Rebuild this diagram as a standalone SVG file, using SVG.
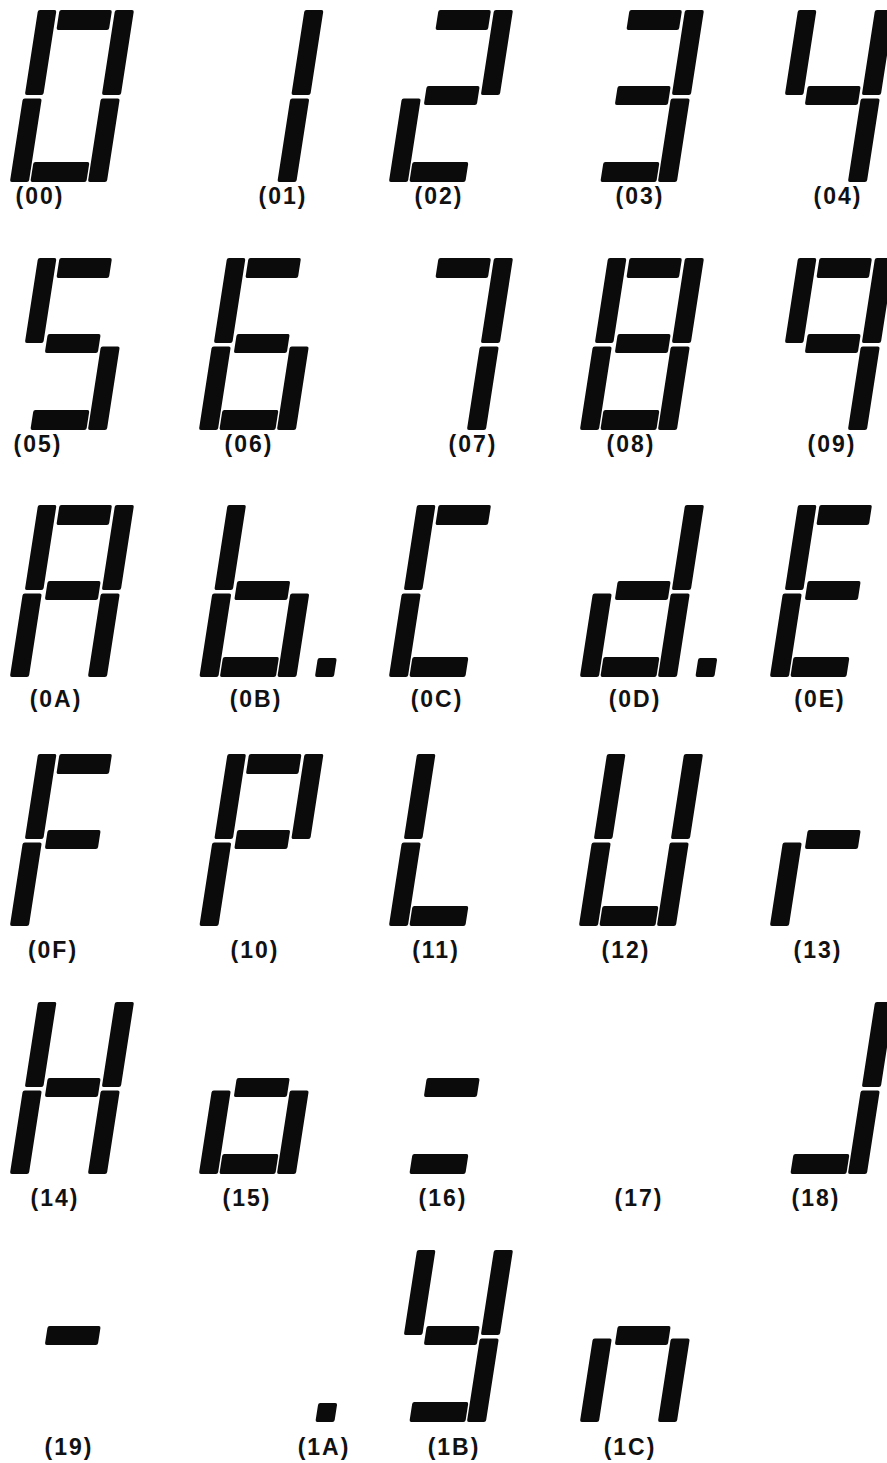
<svg xmlns="http://www.w3.org/2000/svg" width="887" height="1463" viewBox="0 0 887 1463">
<style>
.seg{fill:#0b0b0b}
.lbl{font-family:"Liberation Sans",Arial,sans-serif;font-weight:bold;font-size:23px;letter-spacing:2px;fill:#111;text-anchor:middle}
</style>
<defs>
<rect id="sa" class="seg" x="59.5" y="0" width="52.5" height="20" rx="2"/>
<rect id="sb" class="seg" x="115" y="0" width="19" height="85" rx="2"/>
<rect id="sc" class="seg" x="114.5" y="88.5" width="19" height="83.5" rx="2"/>
<rect id="sd" class="seg" x="57" y="152" width="56" height="20" rx="2"/>
<rect id="se" class="seg" x="36.5" y="88.5" width="19" height="83.5" rx="2"/>
<rect id="sf" class="seg" x="38" y="0" width="18.5" height="85" rx="2"/>
<rect id="sg" class="seg" x="59.5" y="76" width="53" height="19" rx="2"/>
<rect id="sp" class="seg" x="152" y="153" width="19" height="19" rx="2"/>
</defs>
<rect x="0" y="0" width="887" height="1463" fill="#fff"/>

<!-- Row 1 -->
<g id="n00"><g transform="translate(0,10) skewX(-8.8)"><use href="#sa"/><use href="#sb"/><use href="#sc"/><use href="#sd"/><use href="#se"/><use href="#sf"/></g><text class="lbl" x="40" y="204">(00)</text></g>
<g id="n01"><g transform="translate(189.5,10) skewX(-8.8)"><use href="#sb"/><use href="#sc"/></g><text class="lbl" x="283" y="204">(01)</text></g>
<g id="n02"><g transform="translate(379,10) skewX(-8.8)"><use href="#sa"/><use href="#sb"/><use href="#sg"/><use href="#se"/><use href="#sd"/></g><text class="lbl" x="439" y="204">(02)</text></g>
<g id="n03"><g transform="translate(570,10) skewX(-8.8)"><use href="#sa"/><use href="#sb"/><use href="#sg"/><use href="#sc"/><use href="#sd"/></g><text class="lbl" x="640" y="204">(03)</text></g>
<g id="n04"><g transform="translate(760,10) skewX(-8.8)"><use href="#sf"/><use href="#sg"/><use href="#sb"/><use href="#sc"/></g><text class="lbl" x="838" y="204">(04)</text></g>

<!-- Row 2 -->
<g id="n05"><g transform="translate(0,258) skewX(-8.8)"><use href="#sa"/><use href="#sf"/><use href="#sg"/><use href="#sc"/><use href="#sd"/></g><text class="lbl" x="38" y="452">(05)</text></g>
<g id="n06"><g transform="translate(189,258) skewX(-8.8)"><use href="#sa"/><use href="#sf"/><use href="#sg"/><use href="#se"/><use href="#sc"/><use href="#sd"/></g><text class="lbl" x="249" y="452">(06)</text></g>
<g id="n07"><g transform="translate(379,258) skewX(-8.8)"><use href="#sa"/><use href="#sb"/><use href="#sc"/></g><text class="lbl" x="473" y="452">(07)</text></g>
<g id="n08"><g transform="translate(570,258) skewX(-8.8)"><use href="#sa"/><use href="#sb"/><use href="#sc"/><use href="#sd"/><use href="#se"/><use href="#sf"/><use href="#sg"/></g><text class="lbl" x="631" y="452">(08)</text></g>
<g id="n09"><g transform="translate(760,258) skewX(-8.8)"><use href="#sa"/><use href="#sb"/><use href="#sc"/><use href="#sf"/><use href="#sg"/></g><text class="lbl" x="832" y="452">(09)</text></g>

<!-- Row 3 -->
<g id="n0A"><g transform="translate(0,505) skewX(-8.8)"><use href="#sa"/><use href="#sb"/><use href="#sc"/><use href="#se"/><use href="#sf"/><use href="#sg"/></g><text class="lbl" x="56" y="707">(0A)</text></g>
<g id="n0B"><g transform="translate(189.5,505) skewX(-8.8)"><use href="#sf"/><use href="#se"/><use href="#sg"/><use href="#sc"/><use href="#sd"/><use href="#sp"/></g><text class="lbl" x="256" y="707">(0B)</text></g>
<g id="n0C"><g transform="translate(379,505) skewX(-8.8)"><use href="#sa"/><use href="#sf"/><use href="#se"/><use href="#sd"/></g><text class="lbl" x="437" y="707">(0C)</text></g>
<g id="n0D"><g transform="translate(570,505) skewX(-8.8)"><use href="#sb"/><use href="#sc"/><use href="#sg"/><use href="#se"/><use href="#sd"/><use href="#sp"/></g><text class="lbl" x="635" y="707">(0D)</text></g>
<g id="n0E"><g transform="translate(760,505) skewX(-8.8)"><use href="#sa"/><use href="#sf"/><use href="#sg"/><use href="#se"/><use href="#sd"/></g><text class="lbl" x="820" y="707">(0E)</text></g>

<!-- Row 4 -->
<g id="n0F"><g transform="translate(0,754) skewX(-8.8)"><use href="#sa"/><use href="#sf"/><use href="#sg"/><use href="#se"/></g><text class="lbl" x="53" y="958">(0F)</text></g>
<g id="n10"><g transform="translate(189.5,754) skewX(-8.8)"><use href="#sa"/><use href="#sb"/><use href="#sf"/><use href="#sg"/><use href="#se"/></g><text class="lbl" x="255" y="958">(10)</text></g>
<g id="n11"><g transform="translate(379,754) skewX(-8.8)"><use href="#sf"/><use href="#se"/><use href="#sd"/></g><text class="lbl" x="436" y="958">(11)</text></g>
<g id="n12"><g transform="translate(569,754) skewX(-8.8)"><use href="#sf"/><use href="#sb"/><use href="#se"/><use href="#sc"/><use href="#sd"/></g><text class="lbl" x="626" y="958">(12)</text></g>
<g id="n13"><g transform="translate(760,754) skewX(-8.8)"><use href="#sg"/><use href="#se"/></g><text class="lbl" x="818" y="958">(13)</text></g>

<!-- Row 5 -->
<g id="n14"><g transform="translate(0,1002) skewX(-8.8)"><use href="#sf"/><use href="#sb"/><use href="#sg"/><use href="#se"/><use href="#sc"/></g><text class="lbl" x="55" y="1206">(14)</text></g>
<g id="n15"><g transform="translate(189,1002) skewX(-8.8)"><use href="#sg"/><use href="#se"/><use href="#sc"/><use href="#sd"/></g><text class="lbl" x="247" y="1206">(15)</text></g>
<g id="n16"><g transform="translate(379,1002) skewX(-8.8)"><use href="#sg"/><use href="#sd"/></g><text class="lbl" x="443" y="1206">(16)</text></g>
<g id="n17"><text class="lbl" x="639" y="1206">(17)</text></g>
<g id="n18"><g transform="translate(760,1002) skewX(-8.8)"><use href="#sb"/><use href="#sc"/><use href="#sd"/></g><text class="lbl" x="816" y="1206">(18)</text></g>

<!-- Row 6 -->
<g id="n19"><g transform="translate(0,1250) skewX(-8.8)"><use href="#sg"/></g><text class="lbl" x="69" y="1455">(19)</text></g>
<g id="n1A"><g transform="translate(190,1250) skewX(-8.8)"><use href="#sp"/></g><text class="lbl" x="324" y="1455">(1A)</text></g>
<g id="n1B"><g transform="translate(379,1250) skewX(-8.8)"><use href="#sf"/><use href="#sb"/><use href="#sg"/><use href="#sc"/><use href="#sd"/></g><text class="lbl" x="454" y="1455">(1B)</text></g>
<g id="n1C"><g transform="translate(570,1250) skewX(-8.8)"><use href="#sg"/><use href="#se"/><use href="#sc"/></g><text class="lbl" x="630" y="1455">(1C)</text></g>
</svg>
